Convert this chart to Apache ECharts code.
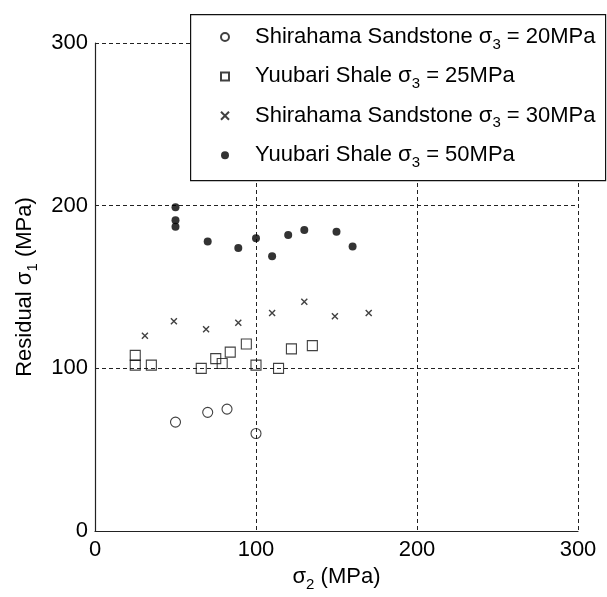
<!DOCTYPE html>
<html>
<head>
<meta charset="utf-8">
<script src="https://cdn.jsdelivr.net/npm/echarts@6/dist/echarts.min.js"></script>
<style>
html,body{margin:0;padding:0;background:#fff;}
#chart{width:607px;height:597px;}
</style>
</head>
<body>
<div id="chart"></div>
<script>
// ---- data ----
var seriesRock = ['Shirahama Sandstone', 'Yuubari Shale', 'Shirahama Sandstone', 'Yuubari Shale'];
var seriesSigma3 = ['20MPa', '25MPa', '30MPa', '50MPa'];
var sandstone20 = [[50, 67], [70, 73], [82, 75], [100, 60]];
var shale25 = [[25, 108], [25, 102], [35, 102], [66, 100], [75, 106], [79, 103], [84, 110], [94, 115], [100, 102], [114, 100], [122, 112], [135, 114]];
var sandstone30 = [[31, 120], [49, 129], [69, 124], [89, 128], [110, 134], [130, 141], [149, 132], [170, 134]];
var shale50 = [[50, 199], [50, 191], [50, 187], [70, 178], [89, 174], [100, 180], [110, 169], [120, 182], [130, 185], [150, 184], [160, 175]];
var xTicks = [0, 100, 200, 300];
var yTicks = [0, 100, 200, 300];

var names = seriesRock.map(function (r, i) { return r + ' σ3 = ' + seriesSigma3[i]; });

var FONT = '"Liberation Sans", Arial, Helvetica, sans-serif';
var chart = echarts.init(document.getElementById('chart'), null, {renderer: 'canvas'});

var gridLine = {show: true, lineStyle: {color: '#222', width: 1, type: [4, 3]}};
var richName = {
  t: {fontFamily: FONT, fontSize: 22, color: '#000', lineHeight: 30, verticalAlign: 'middle'},
  s: {fontFamily: FONT, fontSize: 15, color: '#000', lineHeight: 10, verticalAlign: 'bottom'}
};

var option = {
  animation: false,
  backgroundColor: '#fff',
  textStyle: {fontFamily: FONT, color: '#000'},
  grid: {left: 95, right: 29, top: 43, bottom: 61},
  graphic: [{
    type: 'rect', z: 10, left: 190, top: 14,
    shape: {width: 415, height: 166},
    style: {fill: '#fff', stroke: '#111', lineWidth: 1.2}
  }],
  legend: {
    z: 20,
    orient: 'vertical',
    left: 220, top: 26,
    itemGap: 13.4,
    itemWidth: 8, itemHeight: 8,
    padding: 0,
    selectedMode: false,
    data: names,
    formatter: function (n) {
      var i = names.indexOf(n);
      return '{p| }{t|' + seriesRock[i] + ' σ}{s|3}{t| = ' + seriesSigma3[i] + '}';
    },
    textStyle: {
      fontFamily: FONT, color: '#000',
      rich: {
        p: {width: 21, fontSize: 10, lineHeight: 30},
        t: {fontFamily: FONT, fontSize: 22, color: '#000', lineHeight: 30, verticalAlign: 'middle'},
        s: {fontFamily: FONT, fontSize: 15, color: '#000', lineHeight: 10, verticalAlign: 'bottom'}
      }
    }
  },
  xAxis: {
    type: 'value', min: 0, max: 300, interval: 100,
    name: '{t|σ}{s|2}{t| (MPa)}', nameLocation: 'middle', nameGap: 27,
    nameTextStyle: {rich: richName},
    axisLine: {show: true, lineStyle: {color: '#222', width: 1.2}},
    axisTick: {show: false},
    axisLabel: {fontFamily: FONT, fontSize: 22, color: '#000', margin: 8,
      formatter: function (v) { return xTicks.indexOf(v) >= 0 ? String(v) : ''; }},
    splitLine: gridLine
  },
  yAxis: {
    type: 'value', min: 0, max: 300, interval: 100,
    name: '{t|Residual σ}{s|1}{t| (MPa)}', nameLocation: 'middle', nameGap: 53,
    nameTextStyle: {rich: richName},
    axisLine: {show: true, lineStyle: {color: '#222', width: 1.2}},
    axisTick: {show: false},
    axisLabel: {fontFamily: FONT, fontSize: 22, color: '#000', margin: 7,
      formatter: function (v) { return yTicks.indexOf(v) >= 0 ? String(v) : ''; }},
    splitLine: gridLine
  },
  series: [
    {
      name: names[0], type: 'scatter', data: sandstone20, symbol: 'circle', symbolSize: 10,
      itemStyle: {color: 'rgba(255,255,255,0)', borderColor: '#111', borderWidth: 1.1}
    },
    {
      name: names[1], type: 'scatter', data: shale25, symbol: 'rect', symbolSize: 10,
      itemStyle: {color: 'rgba(255,255,255,0)', borderColor: '#111', borderWidth: 1.1}
    },
    {
      name: names[2], type: 'scatter', data: sandstone30, symbol: 'path://M0,0L10,10M10,0L0,10', symbolSize: 6,
      itemStyle: {color: 'rgba(255,255,255,0)', borderColor: '#111', borderWidth: 1.4}
    },
    {
      name: names[3], type: 'scatter', data: shale50, symbol: 'circle', symbolSize: 8,
      itemStyle: {color: '#000', borderColor: '#000', borderWidth: 0}
    }
  ]
};
chart.setOption(option);
</script>
</body>
</html>
